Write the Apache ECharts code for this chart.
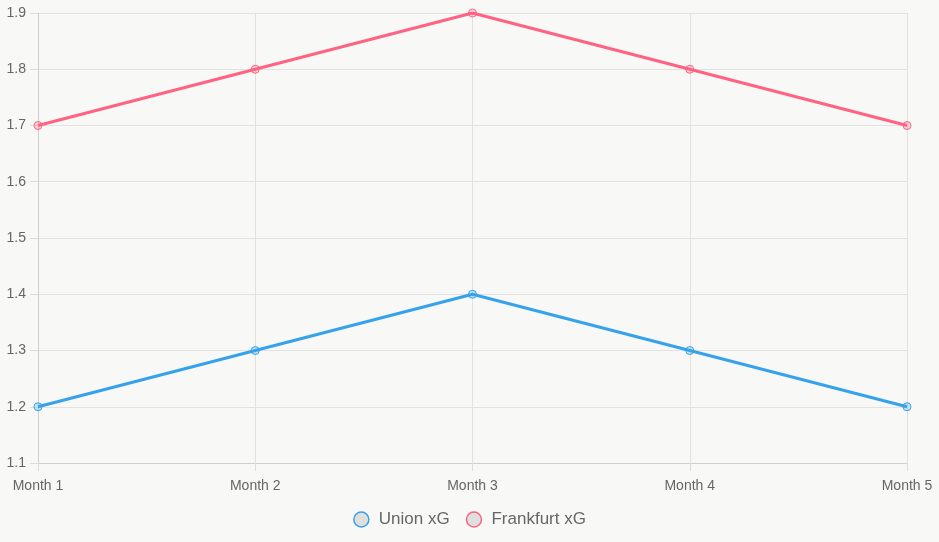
<!DOCTYPE html>
<html>
<head>
<meta charset="utf-8">
<script src="https://cdn.jsdelivr.net/npm/echarts@6/dist/echarts.min.js"></script>
<style>
  html, body { margin: 0; padding: 0; background: #f8f8f6; }
  #chart { width: 939px; height: 542px; }
</style>
</head>
<body>
<div id="chart"></div>
<script>
var months = ["Month 1", "Month 2", "Month 3", "Month 4", "Month 5"];
var unionXg = [1.2, 1.3, 1.4, 1.3, 1.2];
var frankfurtXg = [1.7, 1.8, 1.9, 1.8, 1.7];

var blue = "#36a2eb";
var pink = "#ff6384";

var chart = echarts.init(document.getElementById("chart"));
chart.setOption({
  backgroundColor: "#f8f8f6",
  textStyle: { fontFamily: "Liberation Sans, Arial, sans-serif" },
  grid: { left: 38, right: 32, top: 13, bottom: 79 },
  legend: {
    bottom: 9,
    icon: "circle",
    itemWidth: 15,
    itemHeight: 15,
    itemGap: 16,
    textStyle: { color: "#666", fontSize: 17, padding: [0, 0, 0, 5] },
    data: [
      { name: "Union xG", itemStyle: { color: "#dfdfdd", borderColor: blue, borderWidth: 1.5 } },
      { name: "Frankfurt xG", itemStyle: { color: "#dfdfdd", borderColor: pink, borderWidth: 1.5 } }
    ]
  },
  xAxis: {
    type: "category",
    data: months,
    boundaryGap: false,
    axisLine: { lineStyle: { color: "#cfcfcf" } },
    axisTick: { show: true, length: 8, lineStyle: { color: "#dcdcdc" } },
    axisLabel: { color: "#666", fontSize: 14, margin: 16 },
    splitLine: { show: true, lineStyle: { color: "#e2e2e0" } }
  },
  yAxis: {
    type: "value",
    min: 1.1,
    max: 1.9,
    interval: 0.1,
    axisLine: { show: true, lineStyle: { color: "#cfcfcf" } },
    axisTick: { show: true, length: 8, lineStyle: { color: "#dcdcdc" } },
    axisLabel: {
      color: "#666", fontSize: 14, margin: 12,
      formatter: function (v) { return v.toFixed(1); }
    },
    splitLine: { lineStyle: { color: "#e2e2e0" } }
  },
  series: [
    {
      name: "Union xG",
      type: "line",
      data: unionXg,
      symbol: "circle",
      symbolSize: 8,
      lineStyle: { color: blue, width: 3 },
      itemStyle: { color: "rgba(54,162,235,0.25)", borderColor: blue, borderWidth: 1 }
    },
    {
      name: "Frankfurt xG",
      type: "line",
      data: frankfurtXg,
      symbol: "circle",
      symbolSize: 8,
      lineStyle: { color: pink, width: 3 },
      itemStyle: { color: "rgba(255,99,132,0.25)", borderColor: pink, borderWidth: 1 }
    }
  ]
});
</script>
</body>
</html>
